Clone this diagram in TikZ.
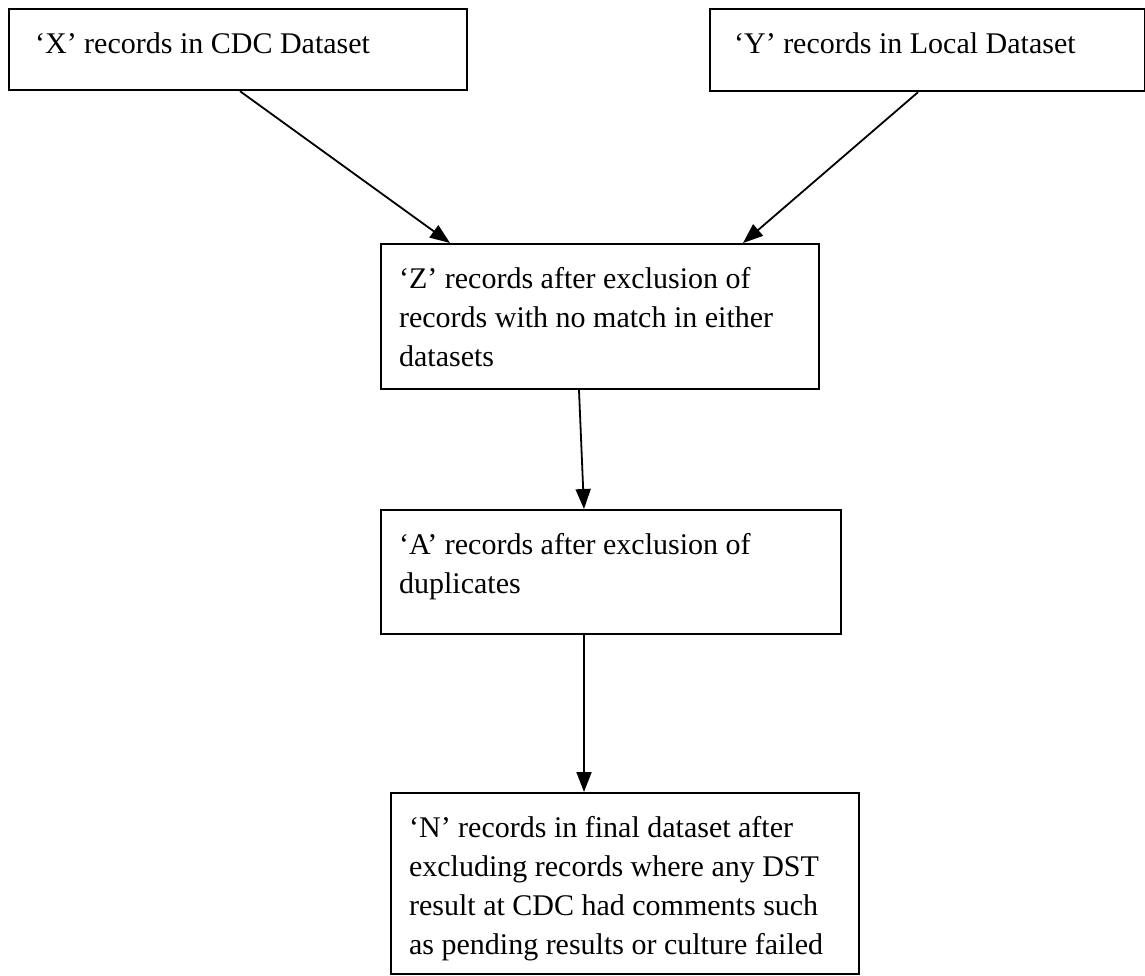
\documentclass[tikz,border=0pt]{standalone}
\usepackage{fontspec}
\setmainfont{Liberation Serif}
\usetikzlibrary{arrows.meta,calc}
\newcommand{\btext}[3]{\parbox[c][#1][t]{#2}{\raggedright\vspace*{16.7pt}\strut #3}}
\begin{document}
\begin{tikzpicture}[x=1pt,y=-1pt,
  flowbox/.style={draw, line width=2.2pt, anchor=north west, inner xsep=20pt, inner ysep=0pt,
    font=\fontsize{30}{39}\selectfont},
  arr/.style={-{Triangle[length=20pt,width=15pt]}, line width=1.8pt}]
\useasboundingbox (0,0) rectangle (1145,975);
\node[flowbox, inner xsep=26pt] (X) at (8,8) {\btext{81pt}{406pt}{‘X’ records in CDC Dataset}};
\node[flowbox, inner xsep=24pt] (Y) at (709,8) {\btext{82pt}{387pt}{‘Y’ records in Local Dataset}};
\node[flowbox, inner xsep=18pt] (Z) at (380,243) {\btext{145pt}{402pt}{‘Z’ records after exclusion of\\records with no match in either\\datasets}};
\node[flowbox, inner xsep=18pt] (A) at (380,509) {\btext{124pt}{424pt}{‘A’ records after exclusion of\\duplicates}};
\node[flowbox, inner xsep=18pt] (N) at (390,792) {\btext{181pt}{432pt}{‘N’ records in final dataset after\\excluding records where any DST\\result at CDC had comments such\\as pending results or culture failed}};
\draw[arr] ($(X.south west)+(232,0)$) -- ($(Z.north west)+(70,0)$);
\draw[arr] ($(Y.south west)+(209,0)$) -- ($(Z.north west)+(363,0)$);
\draw[arr] ($(Z.south west)+(199,0)$) -- ($(A.north west)+(204,0)$);
\draw[arr] ($(A.south west)+(204,0)$) -- ($(N.north west)+(194,0)$);
\end{tikzpicture}
\end{document}
